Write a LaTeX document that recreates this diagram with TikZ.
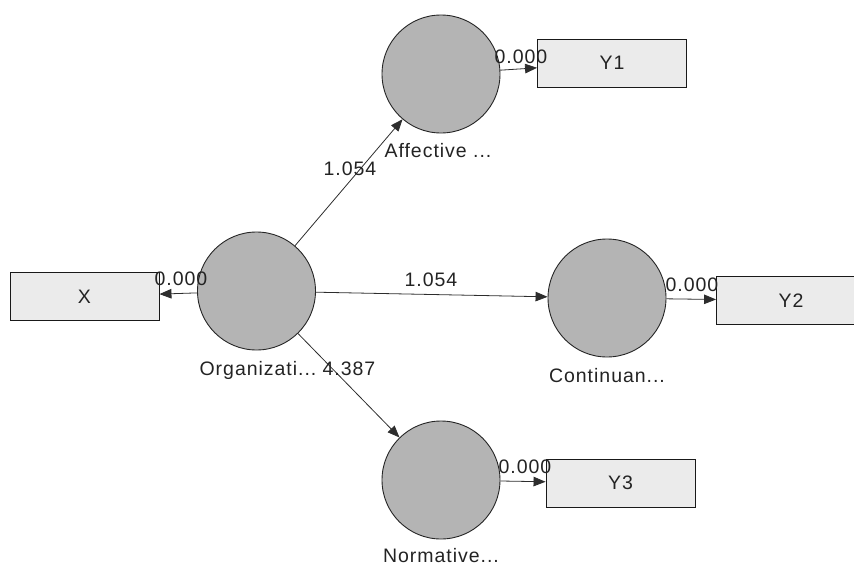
\documentclass[tikz,border=0pt]{standalone}
\usepackage{fontspec}
\setmainfont{Liberation Sans}[LetterSpace=5]
\usetikzlibrary{arrows.meta}
\definecolor{latfill}{RGB}{180,180,180}
\definecolor{boxfill}{RGB}{235,235,235}
\definecolor{txt}{RGB}{35,35,35}
\definecolor{edge}{RGB}{45,45,45}
\begin{document}
\begin{tikzpicture}[x=1pt,y=-1pt,
  font=\fontsize{19.5}{22}\selectfont,
  latent/.style={circle,draw=black!85,line width=0.9pt,fill=latfill,minimum size=118pt,inner sep=0pt},
  indicator/.style={rectangle,draw=black!90,line width=0.9pt,fill=boxfill,minimum width=149pt,minimum height=48pt,inner sep=0pt,text=txt},
  lab/.style={anchor=base,text=txt,inner sep=0pt},
  conn/.style={draw=edge,line width=0.8pt,-{Triangle[length=12pt,width=9.5pt]}}]
\useasboundingbox (0,0) rectangle (854,565);
\clip (0,0) rectangle (854,565);
% latent variables
\node[latent] (aff) at (441,74) {};
\node[latent] (org) at (256.5,291) {};
\node[latent] (cont) at (607,298) {};
\node[latent] (norm) at (441,480) {};
% indicators
\node[indicator] (y1) at (612,63) {Y1};
\node[indicator] (x) at (84.5,296.5) {X};
\node[indicator] (y2) at (791,300.5) {Y2};
\node[indicator] (y3) at (620.5,483) {Y3};
% connectors
\draw[conn] (org) -- (aff);
\draw[conn] (org) -- (cont);
\draw[conn] (org) -- (norm);
\draw[conn] (org) -- (x);
\draw[conn] (aff) -- (y1);
\draw[conn] (cont) -- (y2);
\draw[conn] (norm) -- (y3);
% latent labels
\node[lab] (laff) at (438,157) {Affective ...};
\node[lab] (lorg) at (258,375) {Organizati...};
\node[lab] (lcont) at (607,382) {Continuan...};
\node[lab] (lnorm) at (441,562) {Normative...};
% path coefficients
\node[lab] (c1) at (350,175) {1.054};
\node[lab] (c2) at (431,286) {1.054};
\node[lab] (c3) at (349,375) {4.387};
\node[lab] (c4) at (521,63) {0.000};
\node[lab] (c5) at (181,285) {0.000};
\node[lab] (c6) at (692,291) {0.000};
\node[lab] (c7) at (525,473) {0.000};
\end{tikzpicture}
\end{document}
